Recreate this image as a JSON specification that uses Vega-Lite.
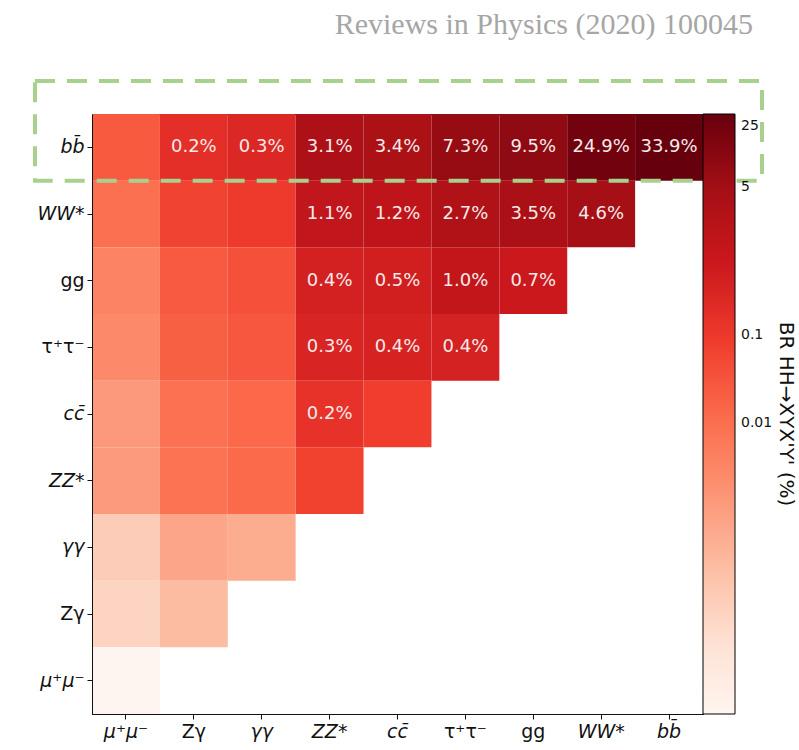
{
  "$schema": "https://vega.github.io/schema/vega-lite/v6.json",
  "autosize": {"type": "none"},
  "padding": {"left": 92, "top": 114, "right": 96, "bottom": 36},
  "width": 611,
  "height": 600,
  "background": "white",
  "title": {
    "text": "Reviews in Physics (2020) 100045",
    "anchor": "end",
    "frame": "group",
    "font": "Liberation Serif",
    "fontSize": 30,
    "fontWeight": "normal",
    "color": "#a6a6a6",
    "baseline": "alphabetic",
    "offset": 15,
    "dx": 50
  },
  "config": {
    "view": {"stroke": "black", "strokeWidth": 1},
    "axis": {
      "labelFont": "DejaVu Sans",
      "labelFontSize": 19,
      "labelColor": "#111111",
      "tickColor": "#111111",
      "tickSize": 5,
      "domainColor": "#111111",
      "labelPadding": 3,
      "grid": false,
      "title": null
    }
  },
  "datasets": {
    "cells": [
      {"r": "bb\u0304", "c": "\u03bc\u207a\u03bc\u207b", "v": 0.02538},
      {"r": "bb\u0304", "c": "Z\u03b3", "v": 0.178},
      {"r": "bb\u0304", "c": "\u03b3\u03b3", "v": 0.264},
      {"r": "bb\u0304", "c": "ZZ*", "v": 3.07},
      {"r": "bb\u0304", "c": "cc\u0304", "v": 3.36},
      {"r": "bb\u0304", "c": "\u03c4\u207a\u03c4\u207b", "v": 7.30},
      {"r": "bb\u0304", "c": "gg", "v": 9.52},
      {"r": "bb\u0304", "c": "WW*", "v": 24.9},
      {"r": "bb\u0304", "c": "bb\u0304", "v": 33.87},
      {"r": "WW*", "c": "\u03bc\u207a\u03bc\u207b", "v": 0.00933},
      {"r": "WW*", "c": "Z\u03b3", "v": 0.0655},
      {"r": "WW*", "c": "\u03b3\u03b3", "v": 0.0972},
      {"r": "WW*", "c": "ZZ*", "v": 1.12},
      {"r": "WW*", "c": "cc\u0304", "v": 1.24},
      {"r": "WW*", "c": "\u03c4\u207a\u03c4\u207b", "v": 2.68},
      {"r": "WW*", "c": "gg", "v": 3.50},
      {"r": "WW*", "c": "WW*", "v": 4.58},
      {"r": "gg", "c": "\u03bc\u207a\u03bc\u207b", "v": 0.003567},
      {"r": "gg", "c": "Z\u03b3", "v": 0.0250},
      {"r": "gg", "c": "\u03b3\u03b3", "v": 0.0371},
      {"r": "gg", "c": "ZZ*", "v": 0.429},
      {"r": "gg", "c": "cc\u0304", "v": 0.473},
      {"r": "gg", "c": "\u03c4\u207a\u03c4\u207b", "v": 1.03},
      {"r": "gg", "c": "gg", "v": 0.669},
      {"r": "\u03c4\u207a\u03c4\u207b", "c": "\u03bc\u207a\u03bc\u207b", "v": 0.002734},
      {"r": "\u03c4\u207a\u03c4\u207b", "c": "Z\u03b3", "v": 0.01919},
      {"r": "\u03c4\u207a\u03c4\u207b", "c": "\u03b3\u03b3", "v": 0.02847},
      {"r": "\u03c4\u207a\u03c4\u207b", "c": "ZZ*", "v": 0.3285},
      {"r": "\u03c4\u207a\u03c4\u207b", "c": "cc\u0304", "v": 0.362},
      {"r": "\u03c4\u207a\u03c4\u207b", "c": "\u03c4\u207a\u03c4\u207b", "v": 0.393},
      {"r": "cc\u0304", "c": "\u03bc\u207a\u03bc\u207b", "v": 0.00126},
      {"r": "cc\u0304", "c": "Z\u03b3", "v": 0.008843},
      {"r": "cc\u0304", "c": "\u03b3\u03b3", "v": 0.01312},
      {"r": "cc\u0304", "c": "ZZ*", "v": 0.1514},
      {"r": "cc\u0304", "c": "cc\u0304", "v": 0.0835},
      {"r": "ZZ*", "c": "\u03bc\u207a\u03bc\u207b", "v": 0.001142},
      {"r": "ZZ*", "c": "Z\u03b3", "v": 0.008017},
      {"r": "ZZ*", "c": "\u03b3\u03b3", "v": 0.01189},
      {"r": "ZZ*", "c": "ZZ*", "v": 0.0686},
      {"r": "\u03b3\u03b3", "c": "\u03bc\u207a\u03bc\u207b", "v": 0.0000990},
      {"r": "\u03b3\u03b3", "c": "Z\u03b3", "v": 0.000695},
      {"r": "\u03b3\u03b3", "c": "\u03b3\u03b3", "v": 0.000515},
      {"r": "Z\u03b3", "c": "\u03bc\u207a\u03bc\u207b", "v": 0.0000667},
      {"r": "Z\u03b3", "c": "Z\u03b3", "v": 0.000234},
      {"r": "\u03bc\u207a\u03bc\u207b", "c": "\u03bc\u207a\u03bc\u207b", "v": 0.00000475}
    ],
    "box": [{"r": "bb\u0304", "c": "\u03bc\u207a\u03bc\u207b", "c2": "bb\u0304"}]
  },
  "layer": [
    {
      "data": {"name": "cells"},
      "mark": {"type": "rect"},
      "encoding": {
        "x": {
          "field": "c",
          "type": "nominal",
          "scale": {"domain": ["\u03bc\u207a\u03bc\u207b", "Z\u03b3", "\u03b3\u03b3", "ZZ*", "cc\u0304", "\u03c4\u207a\u03c4\u207b", "gg", "WW*", "bb\u0304"]},
          "axis": {
            "labelAngle": 0,
            "labelFontStyle": {
              "condition": {"test": "indexof(['bb\u0304','WW*','cc\u0304','ZZ*','\u03bc\u207a\u03bc\u207b','\u03b3\u03b3'], datum.value) >= 0", "value": "italic"},
              "value": "normal"
            }
          }
        },
        "y": {
          "field": "r",
          "type": "nominal",
          "scale": {"domain": ["bb\u0304", "WW*", "gg", "\u03c4\u207a\u03c4\u207b", "cc\u0304", "ZZ*", "\u03b3\u03b3", "Z\u03b3", "\u03bc\u207a\u03bc\u207b"]},
          "axis": {
            "labelFontStyle": {
              "condition": {"test": "indexof(['bb\u0304','WW*','cc\u0304','ZZ*','\u03bc\u207a\u03bc\u207b','\u03b3\u03b3'], datum.value) >= 0", "value": "italic"},
              "value": "normal"
            }
          }
        },
        "color": {
          "field": "v",
          "type": "quantitative",
          "scale": {
            "type": "log",
            "nice": false,
            "interpolate": "rgb",
            "domain": [0.00000475, 0.0000342, 0.0002455, 0.001766, 0.0127, 0.0913, 0.656, 4.71, 33.87],
            "range": ["#fff5f0", "#fee0d2", "#fcbba1", "#fc9272", "#fb6a4a", "#ef3b2c", "#cb181d", "#a50f15", "#67000d"]
          },
          "legend": {
            "orient": "none",
            "legendX": 611,
            "legendY": 0,
            "direction": "vertical",
            "gradientLength": 600,
            "gradientThickness": 32,
            "gradientStrokeColor": "black",
            "gradientStrokeWidth": 1,
            "values": [0.01, 0.1, 5, 25],
            "format": "~g",
            "labelFont": "DejaVu Sans",
            "labelFontSize": 14,
            "labelColor": "#111111",
            "labelOffset": 6,
            "title": "BR HH\u2192XYX'Y' (%)",
            "titleOrient": "right",
            "titleAngle": 90,
            "titleAnchor": "middle",
            "titleLimit": 400,
            "titleFont": "DejaVu Sans",
            "titleFontSize": 20,
            "titleFontWeight": "normal",
            "titleColor": "#111111",
            "titlePadding": 4
          }
        }
      }
    },
    {
      "data": {"name": "cells"},
      "transform": [
        {"filter": "datum.v >= 0.15"},
        {"calculate": "format(datum.v, '.1f') + '%'", "as": "lab"}
      ],
      "mark": {"type": "text", "font": "DejaVu Sans", "fontSize": 18, "color": "#f6eaea"},
      "encoding": {
        "x": {"field": "c", "type": "nominal"},
        "y": {"field": "r", "type": "nominal"},
        "text": {"field": "lab"}
      }
    },
    {
      "data": {"name": "box"},
      "mark": {
        "type": "rect",
        "filled": false,
        "stroke": "#a9d18e",
        "strokeWidth": 4,
        "strokeDash": [20, 12],
        "xOffset": -57,
        "x2Offset": 59,
        "yOffset": -33,
        "clip": false
      },
      "encoding": {
        "x": {"field": "c", "type": "nominal", "bandPosition": 0},
        "x2": {"field": "c2", "bandPosition": 1},
        "y": {"field": "r", "type": "nominal", "bandPosition": 0},
        "y2": {"field": "r", "bandPosition": 1}
      }
    }
  ]
}
